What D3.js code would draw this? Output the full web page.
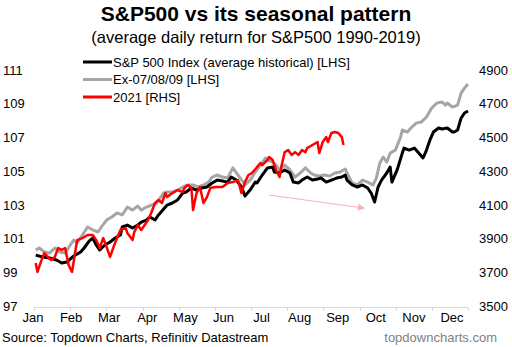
<!DOCTYPE html>
<html>
<head>
<meta charset="utf-8">
<script src="https://cdn.jsdelivr.net/npm/d3@7"></script>
<style>
  body { margin: 0; background: #fff; }
  text { font-family: "Liberation Sans", Arial, sans-serif; fill: #000; }
</style>
</head>
<body>
<div id="chart"></div>
<script>
// month labels and series, [trading day, value]
const months = ["Jan", "Feb", "Mar", "Apr", "May", "Jun", "Jul", "Aug", "Sep", "Oct", "Nov", "Dec"];
const lhsTicks = [97, 99, 101, 103, 105, 107, 109, 111];
const rhsTicks = [3500, 3700, 3900, 4100, 4300, 4500, 4700, 4900];

const avgHist = [
  [1, 100.02], [5, 99.91], [9, 99.85], [13, 99.73], [16, 99.55], [19, 99.61], [23, 99.97], [27, 100.2],
  [29, 100.44], [32, 100.86], [34, 101.03], [36, 100.62], [38, 100.32], [41, 100.62], [44, 100.8], [47, 101.03],
  [50, 101.21], [51, 101.69], [54, 101.8], [57, 101.63], [60, 101.8], [62, 101.98], [65, 102.1], [67, 102.28],
  [70, 102.1], [72, 102.4], [75, 102.75], [77, 102.99], [80, 103.11], [83, 103.29], [86, 103.7], [88, 103.76],
  [91, 104.0], [94, 103.88], [97, 104.0], [100, 104.06], [103, 104.3], [106, 104.47], [109, 104.41], [112, 104.35],
  [114, 104.65], [117, 104.47], [120, 104.06], [122, 103.52], [125, 103.88], [128, 104.35], [129, 104.3], [132, 104.77],
  [135, 105.19], [138, 105.24], [139, 104.95], [142, 104.89], [145, 105.07], [148, 104.89], [150, 104.35], [153, 104.3],
  [155, 104.47], [158, 104.65], [161, 104.47], [164, 104.53], [166, 104.59], [169, 104.35], [172, 104.47], [175, 104.59],
  [178, 104.65], [180, 104.77], [181, 104.47], [184, 104.18], [187, 104.06], [190, 104.18], [193, 104.0], [195, 103.7],
  [197, 103.17], [199, 104.06], [201, 104.47], [204, 104.89], [206, 105.24], [207, 104.35], [210, 105.07], [213, 106.07],
  [214, 106.37], [217, 106.25], [220, 106.37], [222, 106.13], [225, 105.78], [227, 106.25], [229, 106.85], [231, 107.32],
  [234, 107.56], [236, 107.5], [239, 107.56], [242, 107.32], [243, 107.32], [245, 107.44], [247, 108.15], [249, 108.45],
  [251, 108.57]
];

const exCrisis = [
  [1, 100.32], [3, 100.44], [6, 100.2], [9, 100.14], [12, 100.44], [15, 100.2], [18, 100.14], [21, 100.62],
  [23, 100.91], [25, 100.74], [28, 101.21], [31, 101.69], [34, 101.51], [37, 101.39], [39, 101.69], [42, 102.1],
  [45, 102.28], [48, 102.52], [51, 102.4], [54, 102.87], [57, 102.69], [60, 102.93], [62, 102.69], [65, 102.87],
  [68, 102.99], [71, 103.11], [73, 103.41], [75, 103.7], [77, 103.76], [80, 103.76], [83, 103.88], [86, 104.06],
  [89, 104.18], [92, 104.18], [95, 104.06], [98, 104.18], [101, 104.35], [103, 104.65], [106, 104.77], [109, 104.65],
  [112, 104.59], [115, 105.19], [118, 104.77], [121, 104.35], [122, 104.18], [125, 104.47], [128, 104.95], [131, 105.36],
  [134, 105.78], [135, 105.66], [138, 105.54], [140, 105.36], [142, 105.07], [145, 105.36], [148, 105.07], [151, 104.65],
  [154, 104.89], [157, 105.19], [160, 104.89], [162, 104.77], [165, 104.71], [168, 104.77], [171, 104.71], [174, 104.89],
  [177, 104.95], [180, 105.13], [181, 104.89], [184, 104.3], [187, 104.18], [190, 104.47], [193, 104.35], [196, 104.18],
  [198, 104.59], [200, 105.48], [202, 105.84], [204, 105.54], [206, 106.07], [209, 106.25], [212, 107.02], [213, 107.44],
  [216, 107.32], [218, 107.56], [221, 107.85], [224, 107.91], [227, 108.21], [230, 108.74], [233, 109.04], [236, 109.1],
  [238, 108.92], [239, 109.04], [242, 108.8], [245, 108.92], [247, 109.63], [249, 109.93], [251, 110.17]
];

const y2021 = [
  [1, 3755], [2, 3702], [5, 3791], [6, 3814], [8, 3791], [10, 3773], [12, 3791], [14, 3844],
  [16, 3832], [18, 3844], [20, 3743], [22, 3702], [24, 3832], [25, 3891], [28, 3903], [31, 3921],
  [34, 3921], [36, 3891], [38, 3844], [40, 3903], [42, 3850], [44, 3791], [46, 3850], [48, 3903],
  [50, 3951], [53, 3963], [54, 3933], [57, 3891], [58, 3939], [60, 3980], [62, 3951], [64, 3980],
  [66, 4010], [68, 4058], [70, 4111], [72, 4129], [74, 4111], [76, 4170], [77, 4146], [80, 4170],
  [81, 4176], [83, 4188], [86, 4176], [87, 4200], [89, 4218], [91, 4200], [92, 4069], [94, 4170],
  [96, 4206], [98, 4111], [100, 4146], [102, 4200], [105, 4206], [109, 4206], [112, 4230], [115, 4235],
  [118, 4247], [120, 4170], [122, 4235], [124, 4277], [126, 4289], [129, 4324], [131, 4348], [132, 4336],
  [135, 4366], [136, 4384], [138, 4366], [140, 4307], [142, 4265], [143, 4324], [145, 4413], [147, 4425],
  [149, 4396], [151, 4413], [153, 4396], [155, 4425], [157, 4413], [158, 4437], [161, 4455], [164, 4473],
  [165, 4407], [167, 4473], [169, 4502], [170, 4473], [172, 4526], [174, 4532], [176, 4526], [178, 4502],
  [179, 4455]
];

// pale arrow annotation, [day, LHS value]
const arrowPts = [[136, 103.58], [191, 102.81]];

const legendItems = [
  { label: "S&P 500 Index (average historical) [LHS]", color: "#000000" },
  { label: "Ex-07/08/09 [LHS]", color: "#a6a6a6" },
  { label: "2021 [RHS]", color: "#ff0000" }
];

const width = 512, height = 347;

const svg = d3.select("#chart").append("svg")
  .attr("width", width)
  .attr("height", height);

const xScale = d3.scaleLinear().domain([0, 251]).range([34, 468]);
const yLeft = d3.scaleLinear().domain([97, 111]).range([306, 70]);
const yRight = d3.scaleLinear().domain([3500, 4900]).range([306, 70]);
const monthScale = d3.scalePoint().domain(months).range([33, 452]);
const tickScale = d3.scaleLinear().domain([0, 12]).range([34, 468]);

// titles
svg.append("text")
  .attr("x", 256).attr("y", 21)
  .attr("text-anchor", "middle")
  .style("font-size", "21px").style("font-weight", "bold")
  .text("S&P500 vs its seasonal pattern");
svg.append("text")
  .attr("x", 256).attr("y", 43)
  .attr("text-anchor", "middle")
  .style("font-size", "16.5px")
  .text("(average daily return for S&P500 1990-2019)");

// y axes (labels only)
const leftAxis = svg.append("g")
  .attr("transform", "translate(3,0)")
  .call(d3.axisRight(yLeft).tickValues(lhsTicks).tickFormat(d3.format("d")).tickSize(0).tickPadding(0));
const rightAxis = svg.append("g")
  .attr("transform", "translate(479,0)")
  .call(d3.axisRight(yRight).tickValues(rhsTicks).tickFormat(d3.format("d")).tickSize(0).tickPadding(0));
[leftAxis, rightAxis].forEach(a => {
  a.select(".domain").remove();
  a.selectAll("text").style("font-size", "13px").attr("font-family", null).attr("fill", "#000");
});

// x axis
svg.append("line")
  .attr("x1", xScale(0)).attr("x2", xScale(251))
  .attr("y1", 307.5).attr("y2", 307.5)
  .attr("stroke", "#d9d9d9");
svg.selectAll(".xtick").data(d3.range(13)).join("line")
  .attr("class", "xtick")
  .attr("x1", d => Math.round(tickScale(d)) + 0.5).attr("x2", d => Math.round(tickScale(d)) + 0.5)
  .attr("y1", 307.5).attr("y2", 311)
  .attr("stroke", "#d9d9d9");
svg.selectAll(".mlabel").data(months).join("text")
  .attr("class", "mlabel")
  .attr("x", d => monthScale(d)).attr("y", 322)
  .attr("text-anchor", "middle")
  .style("font-size", "13px")
  .text(d => d);

// lines
const lineLeft = d3.line().x(d => xScale(d[0])).y(d => yLeft(d[1]));
const lineRight = d3.line().x(d => xScale(d[0])).y(d => yRight(d[1]));

svg.append("path").attr("d", lineLeft(exCrisis))
  .attr("fill", "none").attr("stroke", "#a6a6a6").attr("stroke-width", 3).attr("stroke-linejoin", "round");
svg.append("path").attr("d", lineLeft(avgHist))
  .attr("fill", "none").attr("stroke", "#000").attr("stroke-width", 3).attr("stroke-linejoin", "round");
svg.append("path").attr("d", lineRight(y2021))
  .attr("fill", "none").attr("stroke", "#ff0000").attr("stroke-width", 2.5).attr("stroke-linejoin", "round");

// arrow
svg.append("defs").append("marker")
  .attr("id", "head")
  .attr("viewBox", "0 0 10 10")
  .attr("refX", 9).attr("refY", 5)
  .attr("markerWidth", 9).attr("markerHeight", 7)
  .attr("markerUnits", "userSpaceOnUse")
  .attr("orient", "auto")
  .append("path").attr("d", "M0,0L10,5L0,10Z").attr("fill", "#f7b2b2");
svg.append("line")
  .attr("x1", xScale(arrowPts[0][0])).attr("y1", yLeft(arrowPts[0][1]))
  .attr("x2", xScale(arrowPts[1][0])).attr("y2", yLeft(arrowPts[1][1]))
  .attr("stroke", "#f7b2b2").attr("stroke-width", 1)
  .attr("marker-end", "url(#head)");

// legend
const legend = svg.append("g").attr("transform", "translate(83,62)");
legendItems.forEach((item, i) => {
  const g = legend.append("g").attr("transform", `translate(0,${i * 17.5})`);
  g.append("line").attr("x1", 0).attr("x2", 29).attr("y1", 0).attr("y2", 0)
    .attr("stroke", item.color).attr("stroke-width", 3);
  g.append("text").attr("x", 30).attr("y", 4.5)
    .style("font-size", "13px")
    .text(item.label);
});

// footer
svg.append("text")
  .attr("x", 2).attr("y", 342)
  .style("font-size", "13px")
  .text("Source: Topdown Charts, Refinitiv Datastream");
svg.append("text")
  .attr("x", 497).attr("y", 342)
  .attr("text-anchor", "end")
  .style("font-size", "13px").style("fill", "#7f7f7f")
  .text("topdowncharts.com");
</script>
</body>
</html>
